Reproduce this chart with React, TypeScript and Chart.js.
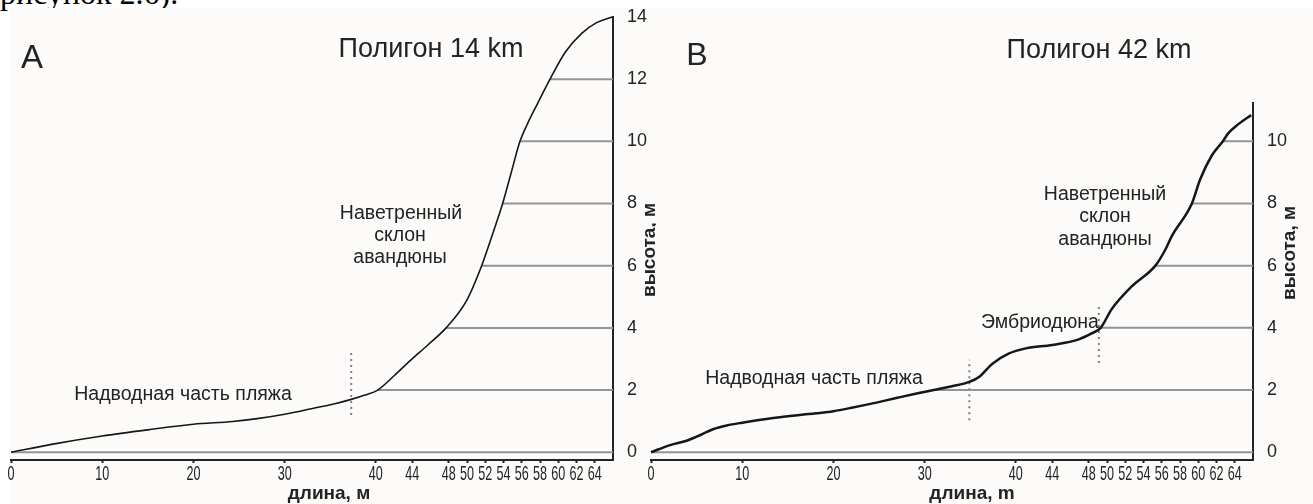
import React, { useEffect, useRef } from "react";
import { Chart, registerables } from "chart.js";

Chart.register(...registerables);

// Beach–foredune profiles: distance along transect (m) vs. height (m)
const profileA: [number, number][] = [
  [0, 0], [4.6, 0.26], [10, 0.52], [15, 0.72], [20, 0.9], [24.3, 0.99], [27, 1.08],
  [30, 1.22], [33.4, 1.43], [35.5, 1.56], [37.3, 1.7], [38.8, 1.84], [40.2, 2],
  [42, 2.46], [43.7, 2.93], [45.7, 3.45], [47.7, 4], [49.9, 4.85], [51.6, 6],
  [52.8, 7.02], [53.9, 8], [54.8, 8.95], [55.8, 10], [56.6, 10.55], [57.7, 11.2],
  [59.1, 12], [60.8, 12.88], [62.6, 13.48], [64.2, 13.82], [65.9, 14],
];

const profileB: [number, number][] = [
  [0, 0], [2.1, 0.23], [3.9, 0.37], [5, 0.5], [6.8, 0.74], [8.3, 0.86], [10, 0.95],
  [13.4, 1.1], [18.1, 1.25], [20, 1.32], [22, 1.43], [24.3, 1.57], [27, 1.75],
  [29, 1.88], [31, 2], [33, 2.12], [34.9, 2.26], [36, 2.43], [37.4, 2.84],
  [39.2, 3.17], [41.1, 3.34], [44, 3.45], [46.9, 3.63], [48.3, 3.82], [49.3, 4],
  [50.5, 4.6], [52.7, 5.33], [55.3, 6], [56.4, 6.52], [57.1, 6.95], [59.3, 8],
  [60.2, 8.77], [61.5, 9.55], [62.7, 10], [63.3, 10.26], [64.4, 10.55], [65.8, 10.84],
];

const levelsA = [0, 2, 4, 6, 8, 10, 12];
const levelsB = [0, 2, 4, 6, 8, 10];

// Zone boundaries: [distance, lower height, upper height]
const boundariesA: [number, number, number][] = [[37.3, 1.2, 3.2]];
const boundariesB: [number, number, number][] = [
  [34.9, 1.03, 2.97],
  [49.1, 2.87, 4.8],
];

const xTickValues = [0, 10, 20, 30, 40, 44, 48, 50, 52, 54, 56, 58, 60, 62, 64];
const yTicksA = [0, 2, 4, 6, 8, 10, 12, 14];
const yTicksB = [0, 2, 4, 6, 8, 10];

const X_MAX = 66;
const Y_MIN = -0.25;
const Y_MAX_A = 14;
const Y_MAX_B = 11.23;

const SANS = '"Liberation Sans", Arial, Helvetica, sans-serif';
const INK = "#232323";

type Note = { text: string; x: number; y: number; font: string; rot?: boolean };

const figureText = {
  id: "figureText",
  afterDraw(chart: any, _args: any, opts: any) {
    const ctx: CanvasRenderingContext2D = chart.ctx;
    const xs = chart.scales.x;
    ctx.save();
    ctx.fillStyle = INK;
    // narrow distance labels under the axis
    ctx.textAlign = "center";
    ctx.textBaseline = "alphabetic";
    ctx.font = `21px ${SANS}`;
    for (const t of xs.ticks) {
      const px = xs.getPixelForValue(t.value);
      ctx.save();
      ctx.translate(px, xs.top + 20);
      ctx.scale(0.6, 1);
      ctx.fillText(String(t.value), 0, 0);
      ctx.restore();
    }
    for (const n of opts.notes as Note[]) {
      ctx.save();
      ctx.font = n.font;
      ctx.textAlign = "center";
      ctx.textBaseline = "alphabetic";
      ctx.translate(n.x, n.y);
      if (n.rot) ctx.rotate(-Math.PI / 2);
      ctx.fillText(n.text, 0, 0);
      ctx.restore();
    }
    ctx.restore();
  },
};

function buildDatasets(
  profile: [number, number][],
  levels: number[],
  bounds: [number, number, number][],
  lineWidth: number
) {
  const sets: any[] = [
    {
      data: profile.map(([x, y]) => ({ x, y })),
      borderColor: "#161616",
      borderWidth: lineWidth,
      pointRadius: 0,
      cubicInterpolationMode: "monotone",
      order: 0,
      clip: false,
    },
  ];
  for (const b of bounds) {
    sets.push({
      data: [
        { x: b[0], y: b[1] },
        { x: b[0], y: b[2] },
      ],
      borderColor: "#808080",
      borderWidth: 2,
      borderDash: [2, 4],
      pointRadius: 0,
      order: 1,
    });
  }
  for (const h of levels) {
    const start = profile.find(([, y]) => y === h)!;
    sets.push({
      data: [
        { x: start[0], y: h },
        { x: X_MAX, y: h },
      ],
      borderColor: "#949494",
      borderWidth: 2,
      pointRadius: 0,
      order: 2,
    });
  }
  return sets;
}

function buildConfig(
  profile: [number, number][],
  levels: number[],
  bounds: [number, number, number][],
  yTicks: number[],
  yMax: number,
  top: number,
  axisWidth: number,
  lineWidth: number,
  notes: Note[]
): any {
  return {
    type: "line",
    data: { datasets: buildDatasets(profile, levels, bounds, lineWidth) },
    plugins: [figureText],
    options: {
      animation: false,
      responsive: false,
      devicePixelRatio: 1,
      events: [],
      layout: { padding: { left: 11, top, right: 0, bottom: 0 } },
      plugins: {
        legend: { display: false },
        tooltip: { enabled: false },
        figureText: { notes },
      },
      scales: {
        x: {
          type: "linear",
          min: 0,
          max: X_MAX,
          afterBuildTicks: (s: any) => {
            s.ticks = xTickValues.map((v) => ({ value: v }));
          },
          afterFit: (s: any) => {
            s.height = 44;
          },
          grid: {
            drawOnChartArea: false,
            drawTicks: true,
            tickLength: 3,
            tickColor: INK,
            tickWidth: 2,
          },
          border: { display: true, color: INK, width: 2 },
          ticks: { display: false },
        },
        y: {
          type: "linear",
          position: "right",
          min: Y_MIN,
          max: yMax,
          afterBuildTicks: (s: any) => {
            s.ticks = yTicks.map((v) => ({ value: v }));
          },
          afterFit: (s: any) => {
            s.width = axisWidth;
          },
          grid: { display: false },
          border: { display: true, color: INK, width: 2 },
          ticks: {
            color: INK,
            padding: 6,
            font: { family: SANS, size: 18 },
          },
        },
      },
    },
  };
}

const notesA: Note[] = [
  { text: "A", x: 32, y: 68, font: `33px ${SANS}` },
  { text: "Полигон 14 km", x: 431, y: 57, font: `27px ${SANS}` },
  { text: "Надводная часть пляжа", x: 183, y: 400, font: `19.5px ${SANS}` },
  { text: "Наветренный", x: 401, y: 219, font: `19.5px ${SANS}` },
  { text: "склон", x: 400, y: 241, font: `19.5px ${SANS}` },
  { text: "авандюны", x: 400, y: 263, font: `19.5px ${SANS}` },
  { text: "длина, м", x: 329, y: 499, font: `bold 19px ${SANS}` },
  { text: "высота, м", x: 655, y: 250, font: `bold 19px ${SANS}`, rot: true },
];

const notesB: Note[] = [
  { text: "B", x: 57, y: 65, font: `32px ${SANS}` },
  { text: "Полигон 42 km", x: 459, y: 58, font: `27px ${SANS}` },
  { text: "Надводная часть пляжа", x: 174, y: 384, font: `19.5px ${SANS}` },
  { text: "Эмбриодюна", x: 400, y: 328, font: `19.5px ${SANS}` },
  { text: "Наветренный", x: 465, y: 200, font: `19.5px ${SANS}` },
  { text: "склон", x: 465, y: 222, font: `19.5px ${SANS}` },
  { text: "авандюны", x: 465, y: 245, font: `19.5px ${SANS}` },
  { text: "длина, m", x: 332, y: 499, font: `bold 19px ${SANS}` },
  { text: "высота, м", x: 655, y: 253, font: `bold 19px ${SANS}`, rot: true },
];

export default function App() {
  const refA = useRef<HTMLCanvasElement>(null);
  const refB = useRef<HTMLCanvasElement>(null);

  useEffect(() => {
    const a = new Chart(
      refA.current!,
      buildConfig(profileA, levelsA, boundariesA, yTicksA, Y_MAX_A, 17, 43, 1.6, notesA)
    );
    const b = new Chart(
      refB.current!,
      buildConfig(profileB, levelsB, boundariesB, yTicksB, Y_MAX_B, 103, 60, 2.5, notesB)
    );
    return () => {
      a.destroy();
      b.destroy();
    };
  }, []);

  return (
    <div
      style={{
        position: "fixed",
        left: 0,
        top: 0,
        width: 1313,
        height: 504,
        background: "#ffffff",
        overflow: "hidden",
      }}
    >
      <div
        style={{
          position: "absolute",
          left: 0,
          top: -23,
          fontFamily: '"Liberation Serif", "Times New Roman", serif',
          fontSize: 32,
          lineHeight: "32px",
          color: "#000",
          whiteSpace: "nowrap",
        }}
      >
        рисунок 2.6).
      </div>
      <div
        style={{
          position: "absolute",
          left: 9,
          top: 8,
          width: 1304,
          height: 496,
          background: "#fcfbf9",
        }}
      />
      <canvas
        ref={refA}
        width={656}
        height={504}
        style={{ position: "absolute", left: 0, top: 0, width: 656, height: 504 }}
      />
      <canvas
        ref={refB}
        width={673}
        height={504}
        style={{ position: "absolute", left: 640, top: 0, width: 673, height: 504 }}
      />
    </div>
  );
}
